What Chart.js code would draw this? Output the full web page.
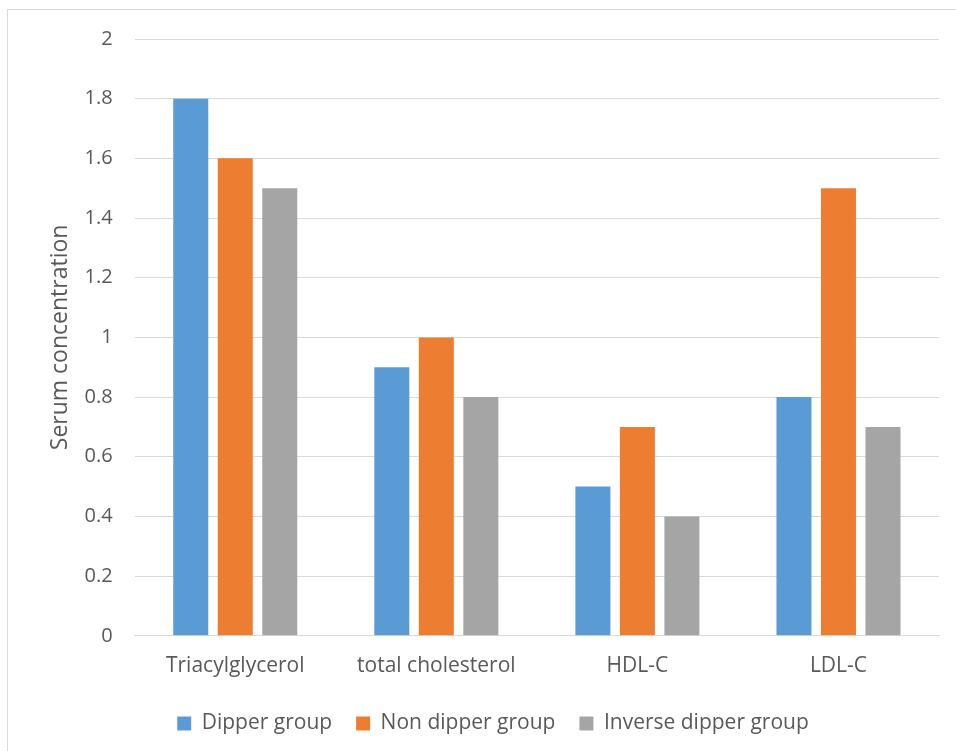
<!DOCTYPE html>
<html>
<head>
    <title>Serum concentration</title>
    <script src="https://cdn.jsdelivr.net/npm/chart.js@4.4.0/dist/chart.umd.min.js"></script>
    <style>
        body { margin: 0; background: #fff; }
        #wrap { width: 956px; height: 751px; }
    </style>
</head>
<body>
<div id="wrap"><canvas id="stage" width="956" height="751"></canvas></div>
<script>
    var categories = ['Triacylglycerol', 'total cholesterol', 'HDL-C', 'LDL-C'];
    var dipper = [1.8, 0.9, 0.5, 0.8];
    var nonDipper = [1.6, 1.0, 0.7, 1.5];
    var inverseDipper = [1.5, 0.8, 0.4, 0.7];

    var textColor = '#595959';
    var lineColor = '#d9d9d9';

    // outer chart frame like the office chart box
    var frame = {
        id: 'frame',
        beforeDraw: function (chart) {
            var ctx = chart.ctx;
            ctx.save();
            ctx.fillStyle = '#fff';
            ctx.fillRect(0, 0, chart.width, chart.height);
            ctx.strokeStyle = lineColor;
            ctx.lineWidth = 1;
            ctx.strokeRect(7.5, 9.5, 1000, 1000);
            ctx.restore();
        }
    };

    var mydata = {
        labels: categories,
        datasets: [
            { label: 'Dipper group', data: dipper, backgroundColor: '#5b9bd5' },
            { label: 'Non dipper group', data: nonDipper, backgroundColor: '#ed7d31' },
            { label: 'Inverse dipper group', data: inverseDipper, backgroundColor: '#a5a5a5' }
        ]
    };

    var options = {
        responsive: false,
        animation: false,
        categoryPercentage: 0.664,
        barPercentage: 0.787,
        layout: { padding: { left: 47, right: 17, top: 39, bottom: 7 } },
        plugins: {
            legend: {
                position: 'bottom',
                labels: {
                    color: textColor,
                    boxWidth: 14,
                    boxHeight: 14,
                    padding: 24,
                    font: { family: 'Open Sans', size: 21 }
                }
            },
            tooltip: { enabled: false }
        },
        scales: {
            x: {
                grid: { display: false },
                border: { color: lineColor },
                ticks: { color: textColor, padding: 10, font: { family: 'Open Sans', size: 21 } }
            },
            y: {
                min: 0,
                max: 2,
                ticks: {
                    stepSize: 0.2,
                    color: textColor,
                    padding: 22,
                    font: { family: 'Open Sans', size: 20 },
                    callback: function (v) { return String(Math.round(v * 10) / 10); }
                },
                grid: { color: lineColor, drawTicks: false },
                border: { display: false },
                title: {
                    display: true,
                    text: 'Serum concentration',
                    color: textColor,
                    padding: { top: 0, bottom: -12 },
                    font: { family: 'Open Sans', size: 23 }
                }
            }
        }
    };

    var canvas = document.getElementById('stage');
    var chart = new Chart(canvas, {
        type: 'bar',
        data: mydata,
        options: options,
        plugins: [frame]
    });
</script>
</body>
</html>
